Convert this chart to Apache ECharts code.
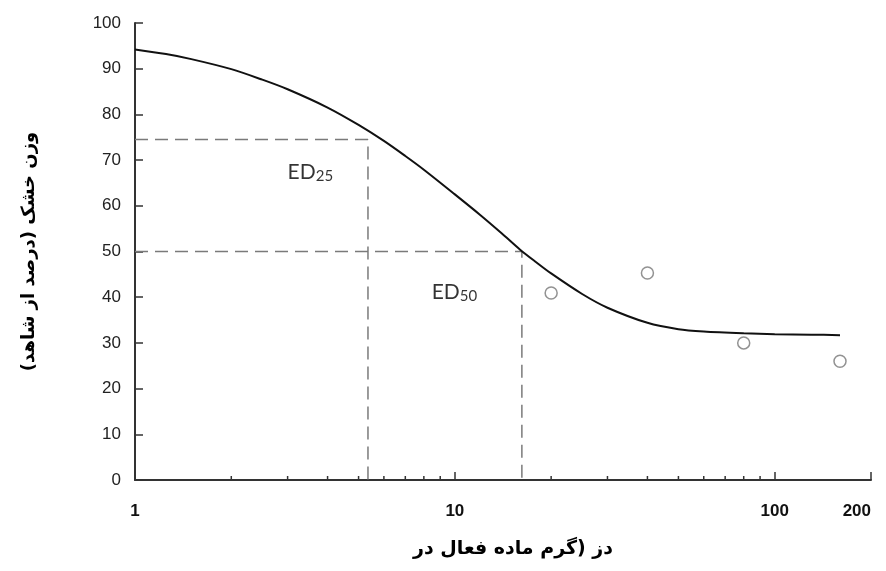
<!DOCTYPE html>
<html>
<head>
<meta charset="utf-8">
<script src="https://cdn.jsdelivr.net/npm/echarts@6/dist/echarts.min.js"></script>
<style>
html,body{margin:0;padding:0;background:#fff;}
#chart{width:886px;height:571px;}
</style>
</head>
<body>
<div id="chart"></div>
<script>
// Fitted dose-response curve
const curveDose = [1, 1.25, 1.5, 2, 2.5, 3, 4, 5, 6, 7, 8, 10, 12, 14, 16, 18, 20, 25, 30, 40, 50, 60, 80, 100, 130, 160];
const curveWeight = [94.2, 93.2, 92.1, 89.9, 87.6, 85.5, 81.5, 77.7, 74.2, 70.9, 67.9, 62.5, 58.0, 54.0, 50.4, 47.6, 45.2, 40.7, 37.7, 34.4, 33.0, 32.5, 32.1, 31.9, 31.8, 31.7];
// Observed points
const obsDose = [20, 40, 80, 160];
const obsWeight = [40.9, 45.3, 30.0, 26.0];
// ED values
const ed25Dose = 5.35, ed25Weight = 74.5;
const ed50Dose = 16.2, ed50Weight = 50;
// Axis ticks
const xTickLabels = [1, 10, 100, 200];
const xMinorTicks = [2, 3, 4, 5, 6, 7, 8, 9, 20, 30, 40, 50, 60, 70, 80, 90];
const yTicks = [0, 10, 20, 30, 40, 50, 60, 70, 80, 90, 100];
const yTitle = 'وزن خشک (درصد از شاهد)';
const xTitle = 'دز (گرم ماده فعال در';

const chart = echarts.init(document.getElementById('chart'));
const dashStyle = {color: '#7a7a7a', width: 1.5, type: [13, 7]};

chart.setOption({
  animation: false,
  backgroundColor: '#fff',
  grid: {left: 135, right: 15, top: 23, bottom: 91, containLabel: false},
  xAxis: {
    type: 'log', logBase: 10, min: 1, max: 200,
    axisLine: {show: true, lineStyle: {color: '#333', width: 2}},
    axisTick: {show: true, inside: true, length: 8, lineStyle: {color: '#333', width: 1.5}},
    axisLabel: {
      margin: 23, fontFamily: 'Liberation Sans, Arial', fontSize: 17, fontWeight: 'bold', color: '#111',
      alignMaxLabel: 'right',
      formatter: v => { const r = Math.round(v); return xTickLabels.includes(r) ? String(r) : ''; }
    },
    splitLine: {show: false},
    name: xTitle, nameLocation: 'middle', nameGap: 60,
    nameTextStyle: {fontFamily: 'DejaVu Sans', fontWeight: 'bold', fontSize: 19, color: '#000', padding: [0, 0, 0, 20]}
  },
  yAxis: {
    type: 'value', min: 0, max: 100, interval: 10,
    axisLine: {show: true, lineStyle: {color: '#333', width: 2}},
    axisTick: {show: true, inside: true, length: 8, lineStyle: {color: '#333', width: 1.5}},
    axisLabel: {margin: 14, fontFamily: 'Liberation Sans, Arial', fontSize: 17, color: '#222',
      formatter: v => yTicks.includes(v) ? String(v) : ''},
    splitLine: {show: false},
    name: yTitle, nameLocation: 'middle', nameGap: 97, nameRotate: 90,
    nameTextStyle: {fontFamily: 'DejaVu Sans', fontWeight: 'bold', fontSize: 18, color: '#000'}
  },
  series: [
    {
      type: 'custom',
      data: xMinorTicks.map(v => [v, 0]),
      renderItem: (params, api) => {
        const p = api.coord([api.value(0), 0]);
        return {type: 'line', shape: {x1: p[0], y1: p[1], x2: p[0], y2: p[1] - 4}, style: {stroke: '#333', lineWidth: 1.5}};
      },
      silent: true, z: 1
    },
    {
      type: 'line', data: [[1, ed25Weight], [ed25Dose, ed25Weight], [ed25Dose, 0]],
      symbol: 'none', lineStyle: dashStyle, silent: true, z: 2
    },
    {
      type: 'line', data: [[1, ed50Weight], [ed50Dose, ed50Weight], [ed50Dose, 0]],
      symbol: 'none', lineStyle: dashStyle, silent: true, z: 2
    },
    {
      type: 'line', data: curveDose.map((d, i) => [d, curveWeight[i]]),
      symbol: 'none', smooth: 0.3, lineStyle: {color: '#111', width: 2}, z: 3
    },
    {
      type: 'scatter', data: obsDose.map((d, i) => [d, obsWeight[i]]),
      symbol: 'circle', symbolSize: 12,
      itemStyle: {color: '#fff', borderColor: '#777', borderWidth: 1.5}, z: 4
    },
    {
      type: 'scatter', symbolSize: 0, silent: true, z: 5,
      data: [
        {value: [3.0, 67.3], label: {formatter: '{a|ED}{b|25}'}},
        {value: [8.46, 41.0], label: {formatter: '{a|ED}{b|50}'}}
      ],
      label: {
        show: true, position: 'right', distance: 0,
        rich: {
          a: {fontFamily: 'Lato', fontSize: 21, color: '#000', lineHeight: 22, verticalAlign: 'top'},
          b: {fontFamily: 'Lato', fontSize: 15, color: '#000', lineHeight: 15, verticalAlign: 'bottom', padding: [11, 0, 0, 0]}
        }
      }
    }
  ]
});
</script>
</body>
</html>
